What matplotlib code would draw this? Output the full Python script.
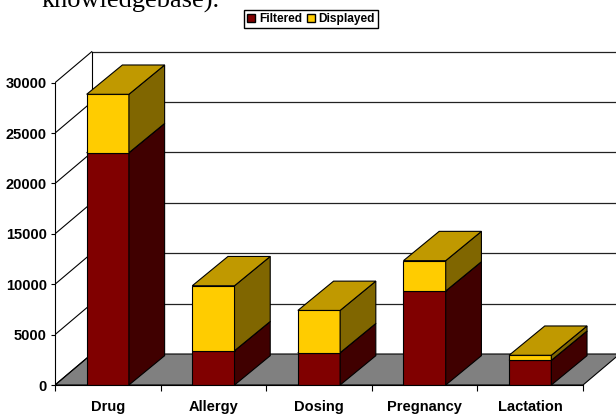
import matplotlib.pyplot as plt
from matplotlib.patches import Polygon, Patch

plt.rcParams['font.family'] = 'Liberation Sans'

categories = ["Drug", "Allergy", "Dosing", "Pregnancy", "Lactation"]
filtered = [23050, 3400, 3200, 9330, 2450]
displayed = [5800, 6450, 4200, 3010, 500]
yticks = [0, 5000, 10000, 15000, 20000, 25000, 30000]

# oblique 3d look: depth offsets in data units
px_per_val = 302.3 / 30000
px_per_cat = 105.6
DX, DY = 36.7 / px_per_cat, 31 / px_per_val      # walls / floor
BDX, BDY = 35.7 / px_per_cat, 29.3 / px_per_val  # bars
BAR_W = 0.40

fig = plt.figure(figsize=(6.16, 4.15), dpi=100)
ax = fig.add_axes([55 / 616, 30 / 415, 561 / 616, 345 / 415])
ax.set_xlim(0, 561 / px_per_cat)
ax.set_ylim(0, 345 / px_per_val)

n = len(categories)

# floor
ax.add_patch(Polygon([(0, 0), (n, 0), (n + DX, DY), (DX, DY)],
                     closed=True, fc='#808080', ec='black', lw=0.8, zorder=1))

# back wall gridlines and side wall diagonals
for v in yticks:
    if v > 0:
        ax.plot([DX, n + DX], [v + DY, v + DY], color='#222222', lw=0.9, zorder=1)
    ax.plot([0, DX], [v, v + DY], color='black', lw=0.8, zorder=1)
ax.plot([DX, DX], [DY, yticks[-1] + DY], color='black', lw=0.8, zorder=1)


def box(x0, x1, y0, y1, front, side, top):
    faces = [
        ([(x0, y0), (x1, y0), (x1, y1), (x0, y1)], front),
        ([(x1, y0), (x1 + BDX, y0 + BDY), (x1 + BDX, y1 + BDY), (x1, y1)], side),
        ([(x0, y1), (x1, y1), (x1 + BDX, y1 + BDY), (x0 + BDX, y1 + BDY)], top),
    ]
    for pts, c in faces:
        ax.add_patch(Polygon(pts, closed=True, fc=c, ec='black', lw=0.8,
                             joinstyle='miter', zorder=3))


for i in range(n):
    x0 = i + 0.5 - BAR_W / 2
    x1 = i + 0.5 + BAR_W / 2
    f = filtered[i]
    d = displayed[i]
    box(x0, x1, 0, f, '#800000', '#400000', '#C00000')
    box(x0, x1, f, f + d, '#FFCC00', '#806600', '#C09900')

# axes
for s in ['top', 'right']:
    ax.spines[s].set_visible(False)
ax.spines['left'].set_bounds(0, yticks[-1])
ax.spines['bottom'].set_bounds(0, n)
ax.spines['left'].set_zorder(4)
ax.spines['bottom'].set_zorder(4)

ax.set_yticks(yticks)
ax.set_yticklabels([str(v) for v in yticks], fontweight='bold', fontsize=10.5)
ax.tick_params(axis='y', length=3, width=0.8, pad=3)

ax.set_xticks(range(n + 1))
ax.set_xticklabels([])
ax.tick_params(axis='x', which='major', length=4, width=0.8)
ax.set_xticks([i + 0.5 for i in range(n)], minor=True)
ax.set_xticklabels(categories, minor=True, fontweight='bold', fontsize=10.5)
ax.tick_params(axis='x', which='minor', length=0, pad=11)

fig.legend(handles=[Patch(fc='#800000', ec='black', label='Filtered'),
                    Patch(fc='#FFCC00', ec='black', label='Displayed')],
           loc='center', bbox_to_anchor=(311 / 616, 1 - 19 / 415), ncol=2,
           fancybox=False, edgecolor='black', framealpha=1,
           handlelength=0.7, handleheight=0.7, handletextpad=0.3,
           columnspacing=0.4, borderpad=0.25,
           prop={'weight': 'bold', 'size': 8.6})

fig.text(42 / 616, 1 - 8 / 415, "knowledgebase).", family='Liberation Serif',
         fontsize=19, va='baseline')

fig.savefig('out.png', dpi=100)
